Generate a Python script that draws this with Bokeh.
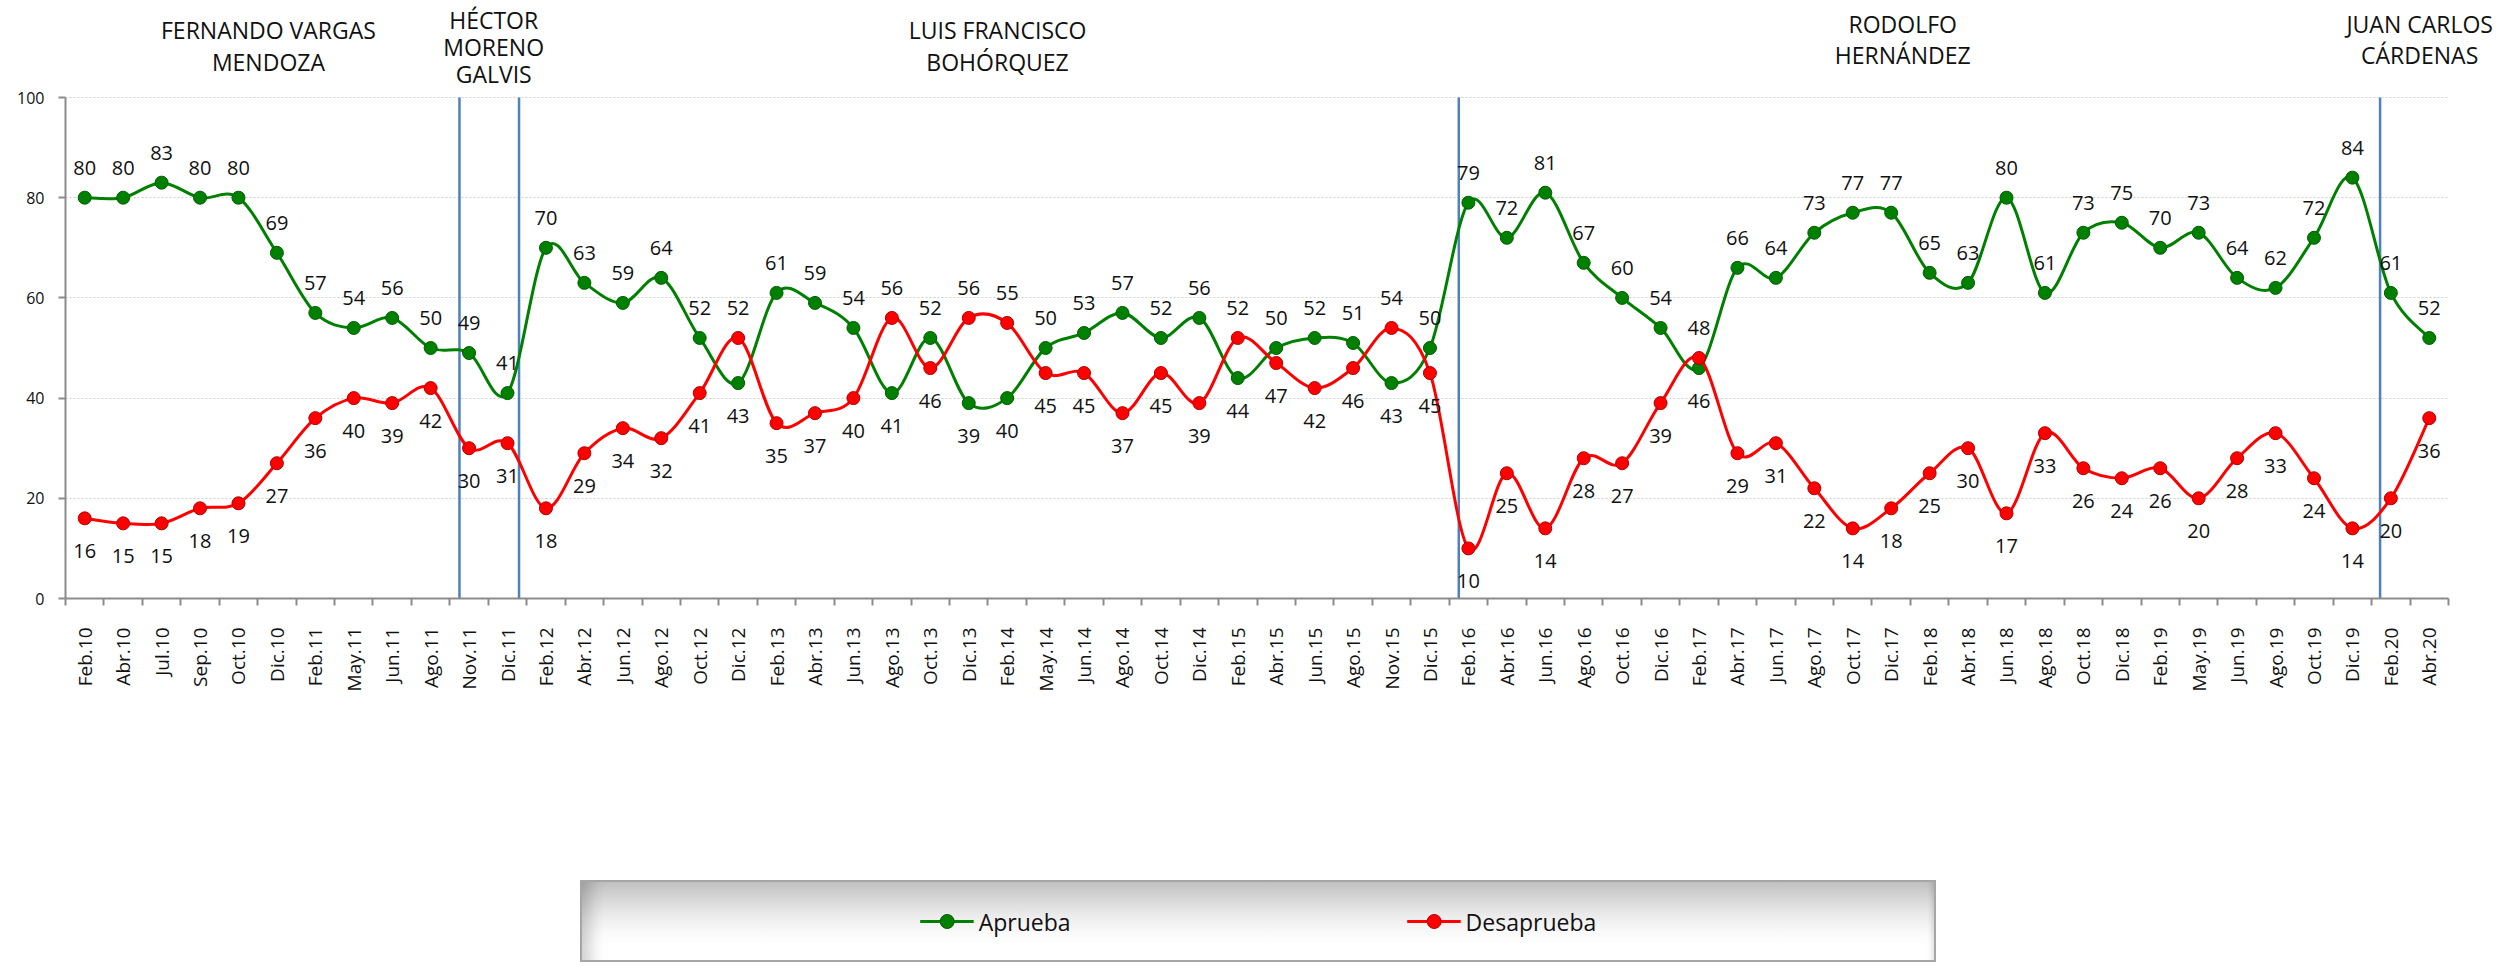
import math
import numpy as np
from bokeh.plotting import figure
from bokeh.models import (ColumnDataSource, Range1d, FixedTicker, Label,
                          Legend, LegendItem)
from bokeh.layouts import column
from bokeh.core.properties import value
from bokeh.embed import file_html
from bokeh.resources import INLINE

# ---------------- data ----------------
categories = ["Feb.10", "Abr.10", "Jul.10", "Sep.10", "Oct.10", "Dic.10", "Feb.11", "May.11",
              "Jun.11", "Ago.11", "Nov.11", "Dic.11", "Feb.12", "Abr.12", "Jun.12", "Ago.12",
              "Oct.12", "Dic.12", "Feb.13", "Abr.13", "Jun.13", "Ago.13", "Oct.13", "Dic.13",
              "Feb.14", "May.14", "Jun.14", "Ago.14", "Oct.14", "Dic.14", "Feb.15", "Abr.15",
              "Jun.15", "Ago.15", "Nov.15", "Dic.15", "Feb.16", "Abr.16", "Jun.16", "Ago.16",
              "Oct.16", "Dic.16", "Feb.17", "Abr.17", "Jun.17", "Ago.17", "Oct.17", "Dic.17",
              "Feb.18", "Abr.18", "Jun.18", "Ago.18", "Oct.18", "Dic.18", "Feb.19", "May.19",
              "Jun.19", "Ago.19", "Oct.19", "Dic.19", "Feb.20", "Abr.20"]

aprueba = [80, 80, 83, 80, 80, 69, 57, 54, 56, 50,
           49, 41, 70, 63, 59, 64, 52, 43, 61, 59,
           54, 41, 52, 39, 40, 50, 53, 57, 52, 56,
           44, 50, 52, 51, 43, 50, 79, 72, 81, 67,
           60, 54, 46, 66, 64, 73, 77, 77, 65, 63,
           80, 61, 73, 75, 70, 73, 64, 62, 72, 84,
           61, 52]

desaprueba = [16, 15, 15, 18, 19, 27, 36, 40, 39, 42,
              30, 31, 18, 29, 34, 32, 41, 52, 35, 37,
              40, 56, 46, 56, 55, 45, 45, 37, 45, 39,
              52, 47, 42, 46, 54, 45, 10, 25, 14, 28,
              27, 39, 48, 29, 31, 22, 14, 18, 25, 30,
              17, 33, 26, 24, 26, 20, 28, 33, 24, 14,
              20, 36]

# mayor names (one entry per text line) and where they sit
header_lines = ["FERNANDO VARGAS", "MENDOZA",
                "HÉCTOR", "MORENO", "GALVIS",
                "LUIS FRANCISCO", "BOHÓRQUEZ",
                "RODOLFO", "HERNÁNDEZ",
                "JUAN CARLOS", "CÁRDENAS"]
header_x = [4.78, 4.78,
            10.64, 10.64, 10.64,
            23.75, 23.75,
            47.3, 47.3,
            60.75, 60.75]
header_y = [113.4, 107.1,
            115.5, 110.1, 104.6,
            113.4, 107.1,
            114.7, 108.4,
            114.7, 108.4]
term_changes = [9.75, 11.3, 35.75, 59.72]
y_ticks = [0, 20, 40, 60, 80, 100]

GREEN = "#008000"
GREEN_DARK = "#005c00"
RED = "#ff0000"
RED_DARK = "#b00000"
AXIS = "#8c8c8c"
FONT = "Open Sans"

n = len(categories)
xs = np.arange(n, dtype=float)


def bezier_source(vals):
    y = np.asarray(vals, dtype=float)
    qx = np.concatenate([[xs[0]], xs, [xs[-1]]])
    qy = np.concatenate([[y[0]], y, [y[-1]]])
    x0, y0 = qx[1:n], qy[1:n]
    x1, y1 = qx[2:n + 1], qy[2:n + 1]
    cx0 = x0 + (qx[2:n + 1] - qx[0:n - 1]) / 6.0
    cy0 = y0 + (qy[2:n + 1] - qy[0:n - 1]) / 6.0
    cx1 = x1 - (qx[3:n + 2] - qx[1:n]) / 6.0
    cy1 = y1 - (qy[3:n + 2] - qy[1:n]) / 6.0
    return ColumnDataSource(dict(x0=x0, y0=y0, x1=x1, y1=y1,
                                 cx0=cx0, cy0=cy0, cx1=cx1, cy1=cy1))


# ---------------- main figure ----------------
W, H = 2504, 708
BOTTOM = 110
LEFT = 65
frame_w = W - LEFT
frame_h = H - BOTTOM
cat_px = (2448 - LEFT) / n           # pixel width of one category
x_end = -0.5 + frame_w / cat_px      # frame spans to the right edge (headers)
y_end = 100 * frame_h / 501.0        # 0..100 covers 501 px; room above for headers

p = figure(width=W, height=H, output_backend="svg", toolbar_location=None,
           x_range=Range1d(-0.5, x_end), y_range=Range1d(0, y_end),
           min_border_left=LEFT, min_border_right=0, min_border_top=0,
           min_border_bottom=BOTTOM)
try:
    p.frame_align = False
except Exception:
    pass
p.outline_line_color = None
p.background_fill_color = "white"
p.border_fill_color = "white"
p.xgrid.visible = False
p.ygrid.grid_line_color = "#cfcfcf"
p.ygrid.grid_line_dash = "2 2"
p.ygrid.grid_line_width = 1
try:
    p.ygrid.cross_bounds = (-0.5, n - 0.5)
except Exception:
    pass

# x axis
p.xaxis.bounds = (-0.5, n - 0.5)
p.xaxis.ticker = FixedTicker(ticks=list(range(n)),
                             minor_ticks=[i - 0.5 for i in range(n + 1)])
p.xaxis.major_label_overrides = {i: c for i, c in enumerate(categories)}
p.xaxis.major_label_orientation = math.pi / 2
p.xaxis.major_tick_line_color = None
p.xaxis.major_tick_out = 8
p.xaxis.major_tick_in = 0
p.xaxis.minor_tick_out = 7
p.xaxis.minor_tick_in = 0
p.xaxis.minor_tick_line_color = AXIS
p.xaxis.minor_tick_line_width = 2
p.xaxis.axis_line_color = AXIS
p.xaxis.axis_line_width = 2
p.xaxis.major_label_standoff = 21
p.xaxis.major_label_text_font = FONT
p.xaxis.major_label_text_font_size = "19px"
p.xaxis.major_label_text_color = "#111111"

# y axis
p.yaxis.bounds = (0, 100)
p.yaxis.ticker = FixedTicker(ticks=y_ticks, minor_ticks=[])
p.yaxis.axis_line_color = AXIS
p.yaxis.axis_line_width = 2
p.yaxis.major_tick_line_color = AXIS
p.yaxis.major_tick_line_width = 2
p.yaxis.major_tick_out = 7
p.yaxis.major_tick_in = 0
p.yaxis.major_label_standoff = 14
p.yaxis.major_label_text_font = FONT
p.yaxis.major_label_text_font_size = "16px"
p.yaxis.major_label_text_color = "#111111"

# term boundaries (from 0 to 100 on the y axis)
p.segment(x0=term_changes, y0=[y_ticks[0]] * len(term_changes),
          x1=term_changes, y1=[y_ticks[-1]] * len(term_changes),
          line_color="#4f81bd", line_width=2.5)

# series
src_g = bezier_source(aprueba)
src_r = bezier_source(desaprueba)
pts = ColumnDataSource(dict(x=xs, a=aprueba, d=desaprueba))

p.bezier(x0="x0", y0="y0", x1="x1", y1="y1", cx0="cx0", cy0="cy0",
         cx1="cx1", cy1="cy1", source=src_g, line_color=GREEN, line_width=3)
p.scatter(x="x", y="a", source=pts, size=13, fill_color=GREEN,
          line_color=GREEN_DARK, line_width=1)
p.bezier(x0="x0", y0="y0", x1="x1", y1="y1", cx0="cx0", cy0="cy0",
         cx1="cx1", cy1="cy1", source=src_r, line_color=RED, line_width=3)
p.scatter(x="x", y="d", source=pts, size=13, fill_color=RED,
          line_color=RED_DARK, line_width=1)

# data labels: higher value above, lower value below
a_arr = np.asarray(aprueba)
d_arr = np.asarray(desaprueba)
a_off = np.where(a_arr >= d_arr, -30, 33)
d_off = np.where(a_arr >= d_arr, 33, -30)
lab = ColumnDataSource(dict(
    x=np.concatenate([xs, xs]),
    y=np.concatenate([a_arr, d_arr]).astype(float),
    t=[str(v) for v in aprueba] + [str(v) for v in desaprueba],
    off=np.concatenate([a_off, d_off]),
))
p.text(x="x", y="y", text="t", y_offset="off", source=lab,
       text_align="center", text_baseline="middle",
       text_font=value(FONT), text_font_size="20px", text_color="#111111")

# headers (mayor names)
for txt, hx, hy in zip(header_lines, header_x, header_y):
    p.add_layout(Label(x=hx, y=hy, text=txt, text_align="center",
                       text_baseline="middle", text_font=FONT,
                       text_font_size="23px", text_color="#111111"))

# ---------------- legend box ----------------
LW, LH = 1356, 82
leg = figure(width=LW, height=LH, output_backend="svg", toolbar_location=None,
             x_range=Range1d(0, 1), y_range=Range1d(0, 1),
             x_axis_location=None, y_axis_location=None,
             min_border=0)
try:
    leg.frame_align = False
except Exception:
    pass
leg.grid.visible = False
leg.background_fill_color = None
leg.border_fill_color = None
leg.outline_line_color = None
leg.margin = (880 - H, 0, 0, 580)
leg.styles = {
    "background": "linear-gradient(to bottom, #bdbdbd 0%, #d6d6d6 22%, #ededed 45%, #fafafa 65%, #ffffff 80%)",
    "box-shadow": "inset 0 0 0 2px #a6a6a6, inset 24px 0 16px -14px rgba(0,0,0,0.20), inset -8px 0 6px -5px rgba(0,0,0,0.18)",
}
# legend glyph renderers: same series, but outside this box's visible range
gl = leg.line(x=xs, y=aprueba, line_color=GREEN, line_width=3)
gs = leg.scatter(x=xs, y=aprueba, size=13, fill_color=GREEN, line_color=GREEN_DARK)
rl = leg.line(x=xs, y=desaprueba, line_color=RED, line_width=3)
rs = leg.scatter(x=xs, y=desaprueba, size=13, fill_color=RED, line_color=RED_DARK)
legend = Legend(items=[LegendItem(label="Aprueba", renderers=[gl, gs]),
                       LegendItem(label="Desaprueba", renderers=[rl, rs])],
                location="center", orientation="horizontal", spacing=336,
                glyph_width=54, glyph_height=35, label_standoff=5,
                label_width=20, padding=0, margin=0,
                label_text_font=FONT, label_text_font_size="23px",
                label_text_color="#111111",
                background_fill_alpha=0, border_line_color=None)
leg.add_layout(legend)

layout = column(p, leg, spacing=0)
open("out.html", "w").write(file_html(layout, INLINE))
